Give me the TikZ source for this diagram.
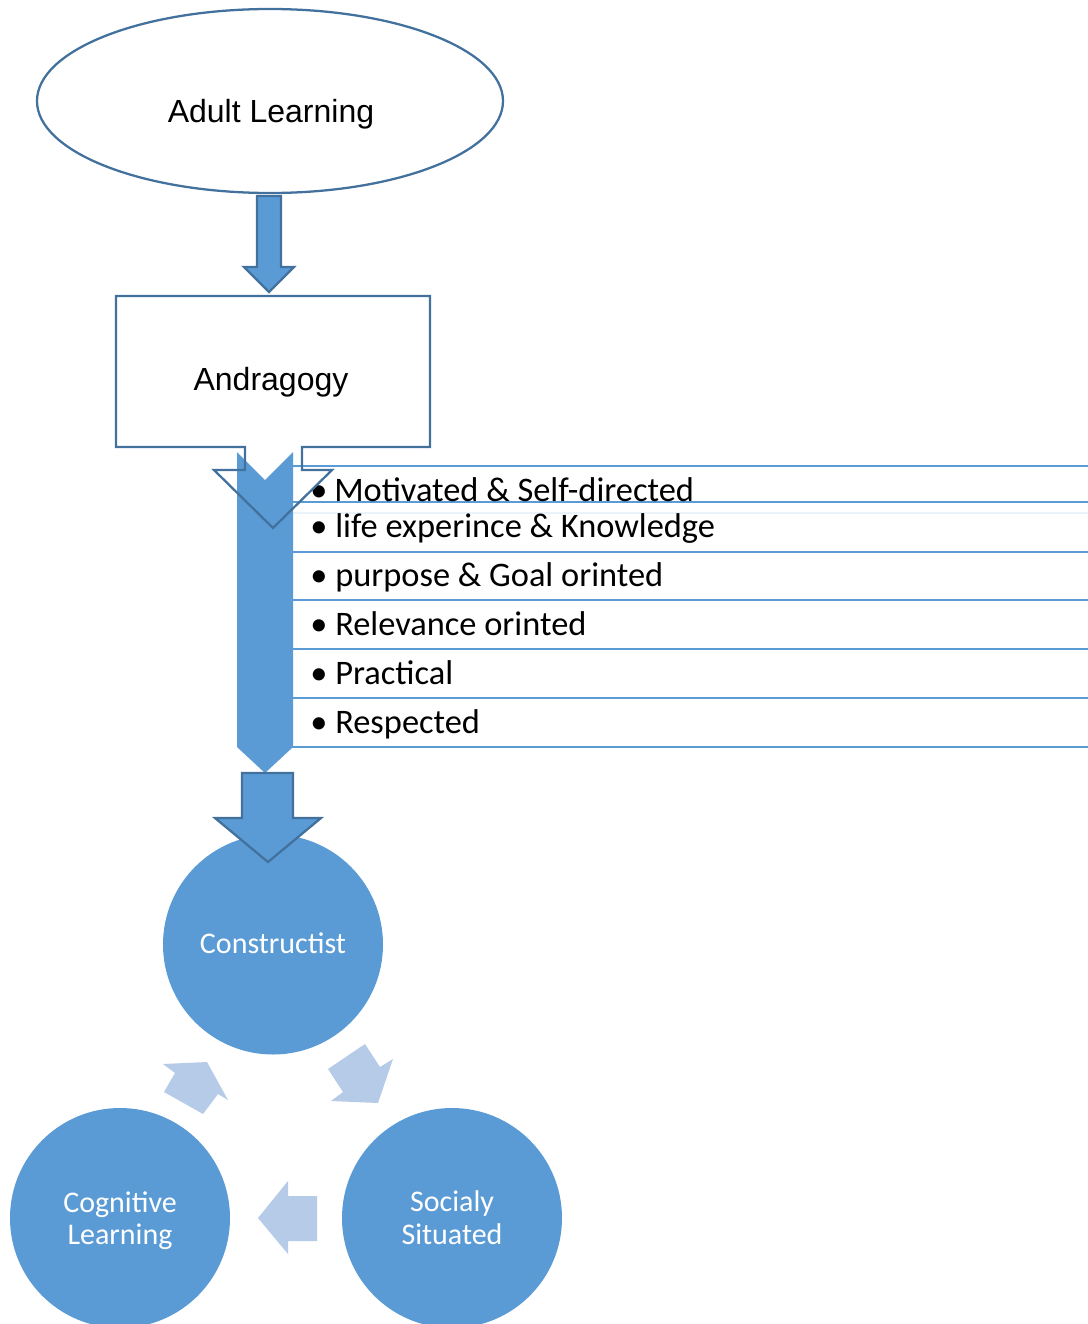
\documentclass[tikz,border=0pt]{standalone}
\usepackage{fontspec}
\setmainfont{Liberation Sans}
\newfontfamily\calib{Carlito}
\usetikzlibrary{shapes.geometric}
\definecolor{dblue}{HTML}{41719C}
\definecolor{mblue}{HTML}{5B9BD5}
\definecolor{lblue}{HTML}{B6CBE8}
\begin{document}
\begin{tikzpicture}[x=0.75pt,y=-0.75pt,
  outl/.style={draw=dblue,line width=1.7pt,line join=miter},
  lbl/.style={font=\fontsize{24}{28}\selectfont,anchor=base,inner sep=0pt},
  item/.style={font=\calib\fontsize{25.8}{30}\selectfont,anchor=base west,inner sep=0pt},
  bul/.style={font=\calib\fontsize{25.8}{30}\selectfont,anchor=base,inner sep=0pt},
  ctext/.style={font=\calib\fontsize{22.5}{27}\selectfont,text=white,anchor=base,inner sep=0pt},
  bigcirc/.style={circle,fill=mblue,minimum size=165pt,inner sep=0pt},
  rowline/.style={draw=mblue,line width=2.1pt},
  cyc/.style={fill=lblue},
  blk/.style={fill=mblue,draw=dblue,line width=1.7pt,line join=miter}]
\clip (0,0) rectangle (1088,1324);
\fill[white] (0,0) rectangle (1088,1324);
% Adult Learning
\node[ellipse,outl,fill=white,minimum width=349.5pt,minimum height=138pt,inner sep=0pt] (adult) at (270,101) {};
\node[lbl] (adultT) at (271,122) {Adult Learning};
% arrow 1
\draw[blk] (257,196) -- (281,196) -- (281,267) -- (294,267) -- (269,292) -- (244,267) -- (257,267) -- cycle;
% Andragogy box
\node[minimum width=235.5pt,minimum height=113.25pt,inner sep=0pt] (andra) at (273,371.5) {};
\fill[white] (116,296) rectangle (430,447);
\node[lbl] (andraT) at (271,390) {Andragogy};
% rows
\draw[rowline,fill=white] (292,466) rectangle (1100,502);
\draw[rowline,fill=white] (292,502) rectangle (1100,552);
\draw[draw=mblue!12,line width=1.5pt] (293,513) -- (1100,513);
\draw[rowline,fill=white] (292,552) rectangle (1100,600);
\draw[rowline,fill=white] (292,600) rectangle (1100,649);
\draw[rowline,fill=white] (292,649) rectangle (1100,698);
\draw[rowline,fill=white] (292,698) rectangle (1100,747);
% big chevron bar
\fill[mblue] (237,452) -- (265,480) -- (293,452) -- (293,747) -- (265,773) -- (237,747) -- cycle;
% row texts
\node[bul] (b1) at (319,501) {•};
\node[item] (t1) at (334,501) {Motivated \& Self-directed};
\node[bul] (b2) at (319,537) {•};
\node[item] (t2) at (335,537) {life experince \& Knowledge};
\node[bul] (b3) at (319,586) {•};
\node[item] (t3) at (335,586) {purpose \& Goal orinted};
\node[bul] (b4) at (319,635) {•};
\node[item] (t4) at (335,635) {Relevance orinted};
\node[bul] (b5) at (319,684) {•};
\node[item] (t5) at (335,684) {Practical};
\node[bul] (b6) at (319,733) {•};
\node[item] (t6) at (335,733) {Respected};
% Andragogy outline with arrow
\draw[outl] (116,296) -- (430,296) -- (430,447) -- (302,447) -- (302,470) -- (332,470) -- (273,528) -- (214,470) -- (245,470) -- (245,447) -- (116,447) -- cycle;
% circles
\node[bigcirc] (cons) at (273,944.5) {};
\node[ctext] (consT) at (273,953) {Constructist};
\node[bigcirc] (cog) at (120,1218) {};
\node[ctext] (cogA) at (120,1212) {Cognitive};
\node[ctext] (cogB) at (120,1244) {Learning};
\node[bigcirc] (soc) at (452,1218) {};
\node[ctext] (socA) at (452,1211) {Socialy};
\node[ctext] (socB) at (452,1244) {Situated};
% arrow into Constructist
\draw[blk] (242,773) -- (293,773) -- (293,818) -- (321,818) -- (268,862) -- (215,818) -- (242,818) -- cycle;
% cycle arrows
\fill[cyc] (365,1044) -- (380,1067) -- (393,1059) -- (378,1103) -- (331,1101) -- (343,1092) -- (328,1069) -- cycle;
\fill[cyc] (317,1196) -- (288,1196) -- (288,1181) -- (258,1218) -- (288,1254) -- (288,1241) -- (317,1241) -- cycle;
\fill[cyc] (164,1092) -- (175,1073) -- (163,1064) -- (207,1062) -- (228,1100) -- (218,1094) -- (203,1114) -- cycle;
\end{tikzpicture}
\end{document}
